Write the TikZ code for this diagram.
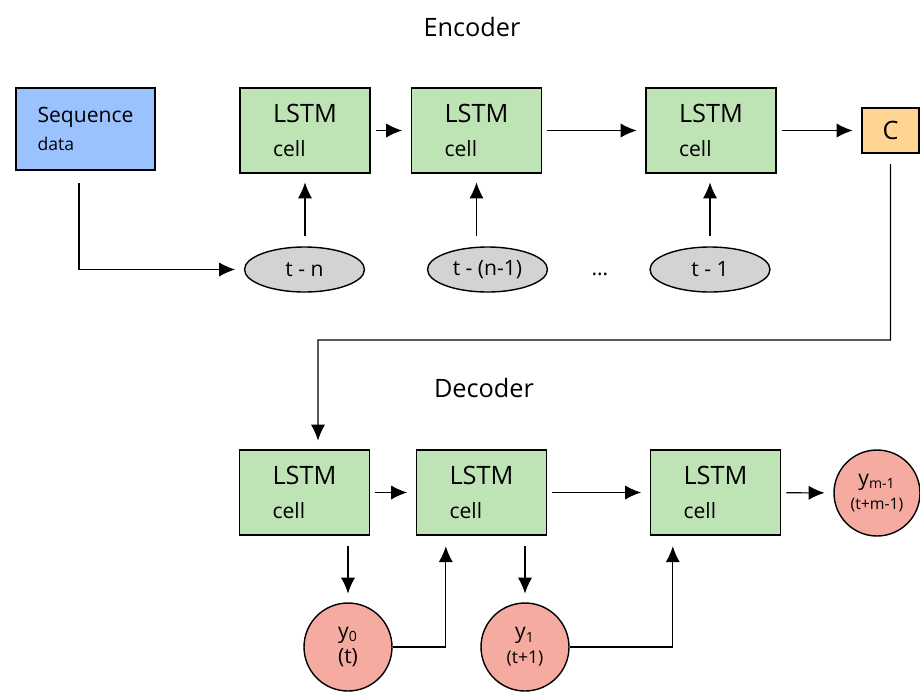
\documentclass[tikz,border=0pt]{standalone}
\usepackage{fontspec}
\setmainfont{Open Sans}
\usepackage{xcolor}
\usepackage{tikz}
\usetikzlibrary{arrows.meta,shapes}

\definecolor{seqblue}{RGB}{153,194,255}
\definecolor{cellgreen}{RGB}{190,227,181}
\definecolor{ctxorange}{RGB}{255,213,145}
\definecolor{stepgray}{RGB}{211,211,211}
\definecolor{outred}{RGB}{246,171,160}

\tikzset{
	cellbox/.style={draw,thick,fill=cellgreen,minimum width=2.6cm,minimum height=1.7cm,align=left,font=\Large},
	seqbox/.style={draw,thick,fill=seqblue,minimum width=2.78cm,minimum height=1.64cm,align=left,font=\large},
	ctxbox/.style={draw,thick,fill=ctxorange,minimum width=1.14cm,minimum height=0.9cm,font=\Large},
	stepnode/.style={ellipse,draw,thick,fill=stepgray,minimum width=2.4cm,minimum height=0.9cm,inner sep=0pt,font=\large},
	outnode/.style={circle,draw,thick,fill=outred,minimum size=1.76cm,inner sep=0pt,align=center,font=\large},
	title/.style={font=\Large},
	gap/.style={semithick,shorten <=#1,shorten >=5pt},
	gap/.default=3pt
}

\begin{document}
\begin{tikzpicture}[x=0.02cm,y=-0.02cm,>={Latex[length=9pt,width=8pt]}]
	\useasboundingbox (0,0) rectangle (920,691);
	%
	\node[title] (enctitle) at (472,27) {Encoder};
	\node[title] (dectitle) at (484,388) {Decoder};
	%
	\node[seqbox] (seq) at (85.5,129) {Sequence\\[2pt]{\normalsize data}};
	\node[cellbox] (enc1) at (305,130.5) {LSTM\\[1pt]{\large cell}};
	\node[cellbox] (enc2) at (476.5,130.5) {LSTM\\[1pt]{\large cell}};
	\node[cellbox] (enc3) at (711,130.5) {LSTM\\[1pt]{\large cell}};
	\node[ctxbox] (ctx) at (890.5,130.5) {C};
	%
	\node[stepnode] (tn) at (304.5,269.5) {t - n};
	\node[stepnode] (tn1) at (487.5,269.5) {t - (n-1)};
	\node[stepnode] (t1) at (710,269.5) {t - 1};
	\node (dots) at (600,274) {\large\dots};
	%
	\node[cellbox] (dec1) at (304.5,492.5) {LSTM\\[1pt]{\large cell}};
	\node[cellbox] (dec2) at (481.5,492.5) {LSTM\\[1pt]{\large cell}};
	\node[cellbox] (dec3) at (715.5,492.5) {LSTM\\[1pt]{\large cell}};
	%
	\node[outnode] (y0) at (348,647) {y\textsubscript{0}\\(t)};
	\node[outnode] (y1) at (525,647) {y\textsubscript{1}\\{\normalsize(t+1)}};
	\node[outnode,minimum size=1.72cm] (ym) at (877,493) {y\textsubscript{m-1}\\{\small(t+m-1)}};
	%
	\coordinate (turn) at (318,340);
	%
	\draw [->,gap] (enc1) -- (enc2);
	\draw [->,gap] (enc2) -- (enc3);
	\draw [->,gap] (enc3) -- (ctx);
	\draw [->,gap=6pt] (enc1.south |- tn.north) -- (enc1.south);
	\draw [->,gap=6pt] (enc2.south |- tn1.north) -- (enc2.south);
	\draw [->,gap=6pt] (t1.north) -- (enc3.south -| t1.north);
	\draw [->,gap=7pt] ([xshift=-0.13cm]seq.south) |- (tn.west);
	%
	\draw [->,gap=6pt] (ctx.south) |- (turn) -- ([xshift=0.27cm]dec1.north);
	%
	\draw [->,gap] (dec1) -- (dec2);
	\draw [->,gap] (dec2) -- (dec3);
	\draw [->,gap] (dec3) -- (ym);
	\draw [->,gap=6pt] (dec1.south -| y0.north) -- (y0.north);
	\draw [->,gap=6pt] (dec2.south -| y1.north) -- (y1.north);
	\draw [->,semithick,shorten >=6pt] (y0.east) -| ([xshift=0.6cm]dec2.south west);
	\draw [->,semithick,shorten >=6pt] (y1.east) -| ([xshift=0.46cm]dec3.south west);
\end{tikzpicture}
\end{document}
